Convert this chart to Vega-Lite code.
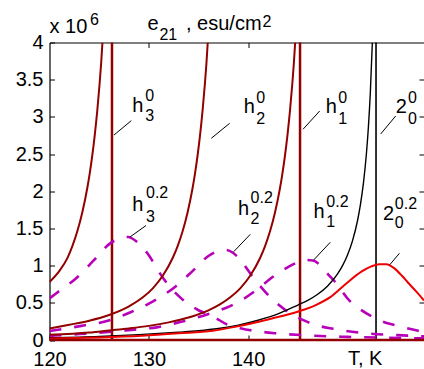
{
  "$schema": "https://vega.github.io/schema/vega-lite/v6.json",
  "width": 374.5,
  "height": 297.5,
  "autosize": {"type": "none"},
  "padding": {"left": 49.5, "top": 42.5, "right": 0, "bottom": 29},
  "background": "white",
  "config": {"view": {"stroke": null}, "font": "Liberation Sans"},
  "datasets": {
    "curves": [
      {"s": "h3_0", "T": 120, "v": 0.78}, {"s": "h3_0", "T": 121, "v": 0.93}, {"s": "h3_0", "T": 121.8, "v": 1.1}, {"s": "h3_0", "T": 122.3, "v": 1.262}, {"s": "h3_0", "T": 122.8, "v": 1.461}, {"s": "h3_0", "T": 123.3, "v": 1.714}, {"s": "h3_0", "T": 123.8, "v": 2.04}, {"s": "h3_0", "T": 124.05, "v": 2.241}, {"s": "h3_0", "T": 124.3, "v": 2.474}, {"s": "h3_0", "T": 124.55, "v": 2.748}, {"s": "h3_0", "T": 124.8, "v": 3.07}, {"s": "h3_0", "T": 125.05, "v": 3.455}, {"s": "h3_0", "T": 125.2, "v": 3.723}, {"s": "h3_0", "T": 125.33, "v": 4.0},
      {"s": "h2_0", "T": 120, "v": 0.155}, {"s": "h2_0", "T": 122, "v": 0.205}, {"s": "h2_0", "T": 124, "v": 0.26}, {"s": "h2_0", "T": 126, "v": 0.336}, {"s": "h2_0", "T": 128, "v": 0.452}, {"s": "h2_0", "T": 129.4, "v": 0.574}, {"s": "h2_0", "T": 130.4, "v": 0.695}, {"s": "h2_0", "T": 131.4, "v": 0.863}, {"s": "h2_0", "T": 132.4, "v": 1.102}, {"s": "h2_0", "T": 132.9, "v": 1.262}, {"s": "h2_0", "T": 133.4, "v": 1.461}, {"s": "h2_0", "T": 133.9, "v": 1.714}, {"s": "h2_0", "T": 134.4, "v": 2.04}, {"s": "h2_0", "T": 134.65, "v": 2.241}, {"s": "h2_0", "T": 134.9, "v": 2.474}, {"s": "h2_0", "T": 135.15, "v": 2.748}, {"s": "h2_0", "T": 135.4, "v": 3.07}, {"s": "h2_0", "T": 135.65, "v": 3.455}, {"s": "h2_0", "T": 135.8, "v": 3.723}, {"s": "h2_0", "T": 135.93, "v": 4.0},
      {"s": "h1_0", "T": 120, "v": 0.07}, {"s": "h1_0", "T": 124, "v": 0.1}, {"s": "h1_0", "T": 126, "v": 0.128}, {"s": "h1_0", "T": 128, "v": 0.156}, {"s": "h1_0", "T": 130, "v": 0.19}, {"s": "h1_0", "T": 132, "v": 0.237}, {"s": "h1_0", "T": 134, "v": 0.302}, {"s": "h1_0", "T": 136, "v": 0.399}, {"s": "h1_0", "T": 137.2, "v": 0.482}, {"s": "h1_0", "T": 138.2, "v": 0.574}, {"s": "h1_0", "T": 139.2, "v": 0.695}, {"s": "h1_0", "T": 140.2, "v": 0.863}, {"s": "h1_0", "T": 141.2, "v": 1.102}, {"s": "h1_0", "T": 141.7, "v": 1.262}, {"s": "h1_0", "T": 142.2, "v": 1.461}, {"s": "h1_0", "T": 142.7, "v": 1.714}, {"s": "h1_0", "T": 143.2, "v": 2.04}, {"s": "h1_0", "T": 143.45, "v": 2.241}, {"s": "h1_0", "T": 143.7, "v": 2.474}, {"s": "h1_0", "T": 143.95, "v": 2.748}, {"s": "h1_0", "T": 144.2, "v": 3.07}, {"s": "h1_0", "T": 144.45, "v": 3.455}, {"s": "h1_0", "T": 144.6, "v": 3.723}, {"s": "h1_0", "T": 144.73, "v": 4.0},
      {"s": "h2o_0", "T": 120, "v": 0.03}, {"s": "h2o_0", "T": 125, "v": 0.048}, {"s": "h2o_0", "T": 129, "v": 0.072}, {"s": "h2o_0", "T": 133, "v": 0.105}, {"s": "h2o_0", "T": 135, "v": 0.125}, {"s": "h2o_0", "T": 137, "v": 0.155}, {"s": "h2o_0", "T": 139, "v": 0.2}, {"s": "h2o_0", "T": 141, "v": 0.265}, {"s": "h2o_0", "T": 143, "v": 0.35}, {"s": "h2o_0", "T": 145, "v": 0.47}, {"s": "h2o_0", "T": 146, "v": 0.533}, {"s": "h2o_0", "T": 147, "v": 0.615}, {"s": "h2o_0", "T": 148, "v": 0.727}, {"s": "h2o_0", "T": 149, "v": 0.889}, {"s": "h2o_0", "T": 149.5, "v": 1.0}, {"s": "h2o_0", "T": 150, "v": 1.143}, {"s": "h2o_0", "T": 150.5, "v": 1.333}, {"s": "h2o_0", "T": 151, "v": 1.6}, {"s": "h2o_0", "T": 151.3, "v": 1.82}, {"s": "h2o_0", "T": 151.6, "v": 2.105}, {"s": "h2o_0", "T": 151.9, "v": 2.5}, {"s": "h2o_0", "T": 152.1, "v": 2.857}, {"s": "h2o_0", "T": 152.3, "v": 3.333}, {"s": "h2o_0", "T": 152.5, "v": 4.0},
      {"s": "r_02", "T": 120, "v": 0.02}, {"s": "r_02", "T": 125, "v": 0.035}, {"s": "r_02", "T": 129.3, "v": 0.058}, {"s": "r_02", "T": 133, "v": 0.09}, {"s": "r_02", "T": 136.4, "v": 0.125}, {"s": "r_02", "T": 138.8, "v": 0.18}, {"s": "r_02", "T": 142.1, "v": 0.28}, {"s": "r_02", "T": 145.2, "v": 0.39}, {"s": "r_02", "T": 146.8, "v": 0.47}, {"s": "r_02", "T": 148.3, "v": 0.58}, {"s": "r_02", "T": 149.7, "v": 0.74}, {"s": "r_02", "T": 151.4, "v": 0.92}, {"s": "r_02", "T": 152.4, "v": 0.99}, {"s": "r_02", "T": 153.2, "v": 1.02}, {"s": "r_02", "T": 153.9, "v": 1.02}, {"s": "r_02", "T": 154.75, "v": 0.96}, {"s": "r_02", "T": 155.5, "v": 0.86}, {"s": "r_02", "T": 156.1, "v": 0.77}, {"s": "r_02", "T": 157, "v": 0.64}, {"s": "r_02", "T": 157.7, "v": 0.53},
      {"s": "m3", "T": 120, "v": 0.56}, {"s": "m3", "T": 121.2, "v": 0.68}, {"s": "m3", "T": 122.6, "v": 0.82}, {"s": "m3", "T": 124.45, "v": 1.07}, {"s": "m3", "T": 126.1, "v": 1.3}, {"s": "m3", "T": 127.2, "v": 1.37}, {"s": "m3", "T": 127.9, "v": 1.385}, {"s": "m3", "T": 128.8, "v": 1.32}, {"s": "m3", "T": 130, "v": 1.14}, {"s": "m3", "T": 131, "v": 0.92}, {"s": "m3", "T": 132.2, "v": 0.7}, {"s": "m3", "T": 133.1, "v": 0.58}, {"s": "m3", "T": 134, "v": 0.48}, {"s": "m3", "T": 135, "v": 0.4}, {"s": "m3", "T": 136.4, "v": 0.32}, {"s": "m3", "T": 138, "v": 0.2}, {"s": "m3", "T": 140.1, "v": 0.135}, {"s": "m3", "T": 142.8, "v": 0.09}, {"s": "m3", "T": 145.5, "v": 0.065}, {"s": "m3", "T": 150, "v": 0.042}, {"s": "m3", "T": 154, "v": 0.03}, {"s": "m3", "T": 157.7, "v": 0.022},
      {"s": "m2", "T": 120, "v": 0.12}, {"s": "m2", "T": 123.2, "v": 0.19}, {"s": "m2", "T": 126.2, "v": 0.27}, {"s": "m2", "T": 128.1, "v": 0.37}, {"s": "m2", "T": 130, "v": 0.49}, {"s": "m2", "T": 131.3, "v": 0.59}, {"s": "m2", "T": 132.7, "v": 0.72}, {"s": "m2", "T": 134.5, "v": 0.94}, {"s": "m2", "T": 136, "v": 1.13}, {"s": "m2", "T": 137.1, "v": 1.2}, {"s": "m2", "T": 137.8, "v": 1.21}, {"s": "m2", "T": 138.5, "v": 1.17}, {"s": "m2", "T": 139.3, "v": 1.06}, {"s": "m2", "T": 140.4, "v": 0.86}, {"s": "m2", "T": 142.05, "v": 0.6}, {"s": "m2", "T": 143.2, "v": 0.46}, {"s": "m2", "T": 144.3, "v": 0.35}, {"s": "m2", "T": 145.5, "v": 0.27}, {"s": "m2", "T": 146.85, "v": 0.2}, {"s": "m2", "T": 148.55, "v": 0.15}, {"s": "m2", "T": 151.9, "v": 0.09}, {"s": "m2", "T": 155, "v": 0.065}, {"s": "m2", "T": 157.7, "v": 0.05},
      {"s": "m1", "T": 120, "v": 0.055}, {"s": "m1", "T": 123, "v": 0.08}, {"s": "m1", "T": 126.2, "v": 0.11}, {"s": "m1", "T": 128.5, "v": 0.14}, {"s": "m1", "T": 130.8, "v": 0.17}, {"s": "m1", "T": 133.4, "v": 0.25}, {"s": "m1", "T": 136, "v": 0.35}, {"s": "m1", "T": 138.4, "v": 0.47}, {"s": "m1", "T": 139.5, "v": 0.55}, {"s": "m1", "T": 140.7, "v": 0.66}, {"s": "m1", "T": 142.6, "v": 0.86}, {"s": "m1", "T": 144, "v": 0.98}, {"s": "m1", "T": 144.9, "v": 1.04}, {"s": "m1", "T": 145.8, "v": 1.075}, {"s": "m1", "T": 146.5, "v": 1.07}, {"s": "m1", "T": 147.3, "v": 1.0}, {"s": "m1", "T": 148, "v": 0.89}, {"s": "m1", "T": 148.7, "v": 0.79}, {"s": "m1", "T": 150.2, "v": 0.53}, {"s": "m1", "T": 151.3, "v": 0.41}, {"s": "m1", "T": 152.4, "v": 0.32}, {"s": "m1", "T": 153.5, "v": 0.25}, {"s": "m1", "T": 154.8, "v": 0.2}, {"s": "m1", "T": 157.1, "v": 0.125}, {"s": "m1", "T": 157.7, "v": 0.11}
    ],
    "asymptotes": [
      {"s": "h3", "T": 126.29, "v": 0, "v2": 4},
      {"s": "h1", "T": 145.22, "v": 0, "v2": 4},
      {"s": "h2o", "T": 152.87, "v": 0, "v2": 4}
    ],
    "baseline": [{"T": 120, "T2": 157.7, "v": 0}],
    "pointers": [
      {"T": 126.493, "v": 2.756, "T2": 128.234, "v2": 2.949},
      {"T": 136.288, "v": 2.712, "T2": 138.14, "v2": 2.914},
      {"T": 145.518, "v": 2.833, "T2": 147.2, "v2": 3.079},
      {"T": 153.34, "v": 2.77, "T2": 154.85, "v2": 3.012},
      {"T": 128.103, "v": 1.385, "T2": 129.714, "v2": 1.539},
      {"T": 138.543, "v": 1.187, "T2": 140.214, "v2": 1.421},
      {"T": 146.596, "v": 1.076, "T2": 148.267, "v2": 1.314},
      {"T": 154.276, "v": 1.015, "T2": 155.232, "v2": 1.166}
    ],
    "labels": [
      {"t": "x 10", "T": 120, "v": 4.124},
      {"t": "e", "T": 129.865, "v": 4.168},
      {"t": ", esu/cm", "T": 133.741, "v": 4.168},
      {"t": "h", "T": 128.325, "v": 3.072},
      {"t": "h", "T": 139.549, "v": 3.048},
      {"t": "h", "T": 147.804, "v": 3.048},
      {"t": "2", "T": 154.86, "v": 3.048},
      {"t": "h", "T": 128.325, "v": 1.734},
      {"t": "h", "T": 138.975, "v": 1.687},
      {"t": "h", "T": 146.565, "v": 1.636},
      {"t": "2", "T": 153.561, "v": 1.607},
      {"t": "T, K", "T": 150.048, "v": -0.338}
    ],
    "scripts": [
      {"t": "6", "T": 124.077, "v": 4.235},
      {"t": "21", "T": 131.063, "v": 4.034},
      {"t": "2", "T": 141.44, "v": 4.212},
      {"t": "0", "T": 129.644, "v": 3.207}, {"t": "3", "T": 129.644, "v": 2.945},
      {"t": "0", "T": 140.817, "v": 3.183}, {"t": "2", "T": 140.817, "v": 2.904},
      {"t": "0", "T": 149.072, "v": 3.183}, {"t": "1", "T": 149.072, "v": 2.904},
      {"t": "0", "T": 156.088, "v": 3.183}, {"t": "0", "T": 156.088, "v": 2.904},
      {"t": "0.2", "T": 129.714, "v": 1.905}, {"t": "3", "T": 129.714, "v": 1.591},
      {"t": "0.2", "T": 140.244, "v": 1.846}, {"t": "2", "T": 140.244, "v": 1.566},
      {"t": "0.2", "T": 147.864, "v": 1.792}, {"t": "1", "T": 147.864, "v": 1.523},
      {"t": "0.2", "T": 154.759, "v": 1.761}, {"t": "0", "T": 154.759, "v": 1.506}
    ]
  },
  "encoding": {
    "x": {"field": "T", "type": "quantitative", "scale": {"domain": [120, 157.7], "nice": false, "zero": false}, "axis": null},
    "y": {"field": "v", "type": "quantitative", "scale": {"domain": [0, 4], "nice": false, "zero": false}, "axis": null}
  },
  "layer": [
    {
      "data": {"name": "asymptotes"},
      "transform": [{"filter": "datum.s !== 'h2o'"}],
      "mark": {"type": "rule", "color": "#920000", "strokeWidth": 2.5},
      "encoding": {
        "x": {"field": "T", "type": "quantitative", "scale": {"domain": [120, 157.7], "nice": false, "zero": false},
              "axis": {"orient": "top", "values": [130, 140], "labels": false, "tickSize": -5, "tickColor": "black", "domainColor": "black", "domainWidth": 1, "grid": false, "title": null}},
        "y": {"field": "v", "type": "quantitative", "scale": {"domain": [0, 4], "nice": false, "zero": false},
              "axis": {"orient": "right", "values": [0.5, 1, 1.5, 2, 2.5, 3, 3.5], "labels": false, "domain": false, "tickSize": -5, "tickColor": "black", "grid": false, "title": null}},
        "y2": {"field": "v2"}
      }
    },
    {
      "data": {"name": "asymptotes"},
      "transform": [{"filter": "datum.s === 'h2o'"}],
      "mark": {"type": "rule", "color": "black", "strokeWidth": 1.6},
      "encoding": {"y2": {"field": "v2"}}
    },
    {
      "data": {"name": "curves"},
      "transform": [{"filter": "indexof(['m3','m2','m1'], datum.s) >= 0"}],
      "mark": {"type": "line", "color": "#b800b8", "strokeWidth": 2.6, "strokeDash": [12, 13], "interpolate": "monotone", "clip": true},
      "encoding": {"detail": {"field": "s"}}
    },
    {
      "data": {"name": "curves"},
      "transform": [{"filter": "indexof(['h3_0','h2_0','h1_0'], datum.s) >= 0"}],
      "mark": {"type": "line", "color": "#920000", "strokeWidth": 2, "interpolate": "monotone", "clip": true},
      "encoding": {"detail": {"field": "s"}}
    },
    {
      "data": {"name": "curves"},
      "transform": [{"filter": "datum.s === 'h2o_0'"}],
      "mark": {"type": "line", "color": "black", "strokeWidth": 1.4, "interpolate": "monotone", "clip": true},
      "encoding": {}
    },
    {
      "data": {"name": "curves"},
      "transform": [{"filter": "datum.s === 'r_02'"}],
      "mark": {"type": "line", "color": "#ee0000", "strokeWidth": 2, "interpolate": "monotone", "clip": true},
      "encoding": {}
    },
    {
      "data": {"name": "baseline"},
      "mark": {"type": "rule", "color": "#920000", "strokeWidth": 2.7},
      "encoding": {
        "x": {"field": "T", "type": "quantitative", "scale": {"domain": [120, 157.7], "nice": false, "zero": false},
              "axis": {"orient": "bottom", "values": [120, 130, 140], "tickSize": -5, "tickColor": "black", "domainColor": "black", "domainWidth": 1, "labelFontSize": 20, "labelFont": "Liberation Sans", "labelColor": "black", "labelPadding": 14.5, "labelFlush": false, "labelOverlap": false, "grid": false, "title": null}},
        "y": {"field": "v", "type": "quantitative", "scale": {"domain": [0, 4], "nice": false, "zero": false},
              "axis": {"orient": "left", "values": [0, 0.5, 1, 1.5, 2, 2.5, 3, 3.5, 4], "format": "~g", "tickSize": -5, "tickColor": "black", "domainColor": "black", "domainWidth": 1.2, "labelFontSize": 20, "labelFont": "Liberation Sans", "labelColor": "black", "labelPadding": 11.5, "labelFlush": false, "labelOverlap": false, "grid": false, "title": null}},
        "x2": {"field": "T2"}
      }
    },
    {
      "data": {"name": "pointers"},
      "mark": {"type": "rule", "color": "black", "strokeWidth": 1},
      "encoding": {"x2": {"field": "T2"}, "y2": {"field": "v2"}}
    },
    {
      "data": {"name": "labels"},
      "mark": {"type": "text", "align": "left", "baseline": "alphabetic", "fontSize": 20, "font": "Liberation Sans", "color": "black"},
      "encoding": {"text": {"field": "t"}}
    },
    {
      "data": {"name": "scripts"},
      "mark": {"type": "text", "align": "left", "baseline": "alphabetic", "fontSize": 16, "font": "Liberation Sans", "color": "black"},
      "encoding": {"text": {"field": "t"}}
    }
  ],
  "resolve": {"axis": {"x": "independent", "y": "independent"}}
}
